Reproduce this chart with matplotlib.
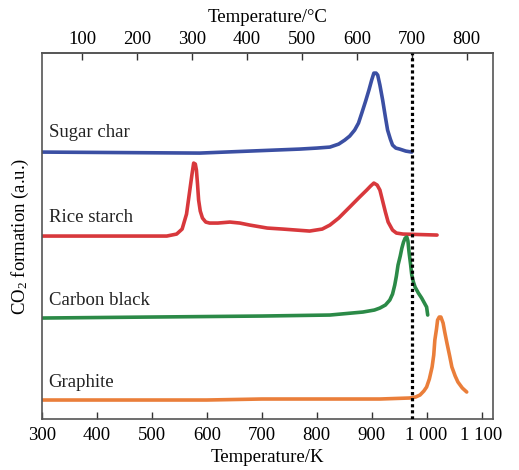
import matplotlib
matplotlib.use('Agg')
import matplotlib.pyplot as plt

plt.rcParams['font.family'] = ['Liberation Serif', 'DejaVu Serif']
plt.rcParams['mathtext.fontset'] = 'custom'
plt.rcParams['mathtext.rm'] = 'Liberation Serif'
plt.rcParams['mathtext.it'] = 'Liberation Serif:italic'

# temperatures (K) and CO2 signal (arbitrary units, stacked offsets)
sugar_t = [299, 587, 769, 800, 824, 840, 851, 860, 869, 876, 882, 889, 895, 900, 904,
           908, 911, 915, 920, 925, 929, 934, 938, 944, 951, 962, 973]
sugar_y = [267, 266, 270, 271, 272, 275, 279, 283, 289, 296, 306, 318, 329, 339, 346,
           346, 344, 334, 319, 302, 289, 280, 274, 271, 270, 268, 267]

rice_t = [299, 527, 545, 555, 563, 569, 573, 576, 579, 581, 583, 585, 588, 592, 598,
          605, 620, 642, 660, 678, 710, 738, 787, 810, 824, 840, 860, 878, 891, 898,
          904, 910, 915, 920, 925, 930, 938, 945, 957, 1019]
rice_y = [183, 183, 185, 190, 205, 229, 245, 256, 255, 249, 235, 219, 208, 201, 197,
          196, 196, 197, 196, 194, 191, 190, 188, 190, 194, 201, 212, 222, 229, 233,
          236, 234, 229, 218, 207, 197, 189, 186, 185, 184]

carbon_t = [299, 700, 824, 884, 905, 915, 925, 933, 938, 942, 945, 948, 952, 955, 958,
            961, 964, 966, 968, 971, 973, 976, 979, 985, 991, 996, 1000, 1002]
carbon_y = [101, 103, 104, 107, 109, 111, 114, 119, 125, 134, 143, 154, 163, 171, 177,
            181, 182, 178, 167, 154, 144, 137, 132, 126, 121, 116, 112, 104]

graph_t = [299, 600, 700, 915, 969, 980, 988, 995, 1000, 1005, 1010, 1013, 1015, 1018,
           1020, 1023, 1026, 1030, 1033, 1037, 1042, 1046, 1052, 1057, 1065, 1073]
graph_y = [19, 19, 20, 20, 21, 22, 24, 28, 32, 40, 52, 64, 79, 90,
           99, 102, 102, 96, 87, 76, 63, 52, 43, 37, 31, 27]

names = ['Sugar char', 'Rice starch', 'Carbon black', 'Graphite']
label_y = [287, 202, 119, 37]
colors = ['#3b4fa3', '#d8383c', '#2b8a47', '#ea7e3a']

k_ticks = [300, 400, 500, 600, 700, 800, 900, 1000, 1100]
k_labels = ['300', '400', '500', '600', '700', '800', '900', '1 000', '1 100']
c_ticks = [100, 200, 300, 400, 500, 600, 700, 800]
t_line = 973

fig = plt.figure(figsize=(5.19, 4.70), dpi=100)
ax = fig.add_axes([0.081, 0.1085, 0.868, 0.7785])

series = [(sugar_t, sugar_y), (rice_t, rice_y), (carbon_t, carbon_y), (graph_t, graph_y)]
for (t, y), c in zip(series, colors):
    ax.plot(t, y, color=c, lw=2.6, solid_capstyle='round', solid_joinstyle='round')

for name, ly in zip(names, label_y):
    ax.text(312, ly, name, fontsize=13.5, va='center', ha='left', color='#222222')

ax.axvline(t_line, color='black', lw=2.3, linestyle=(0, (1, 0.9)), zorder=5)

ax.set_xlim(300, 1120)
ax.set_ylim(0, 366)
ax.set_yticks([])
ax.set_xticks(k_ticks, k_labels)
ax.tick_params(axis='x', direction='in', length=5, width=1, labelsize=13.5, pad=6,
               color='#333333')
ax.set_xlabel('Temperature/K', fontsize=13.5, labelpad=3)
ax.set_ylabel('CO$_2$ formation (a.u.)', fontsize=13.5, labelpad=8)
for s in ax.spines.values():
    s.set_color('#555555')
    s.set_linewidth(1.2)

top = ax.secondary_xaxis('top', functions=(lambda k: k - 273, lambda c: c + 273))
top.set_xticks(c_ticks)
top.tick_params(axis='x', direction='in', length=5, width=1, labelsize=13.5, pad=4,
                color='#333333')
top.set_xlabel('Temperature/°C', fontsize=13.5, labelpad=6)
top.spines['top'].set_color('#555555')
top.spines['top'].set_linewidth(1.2)

fig.savefig('out.png', dpi=100)
